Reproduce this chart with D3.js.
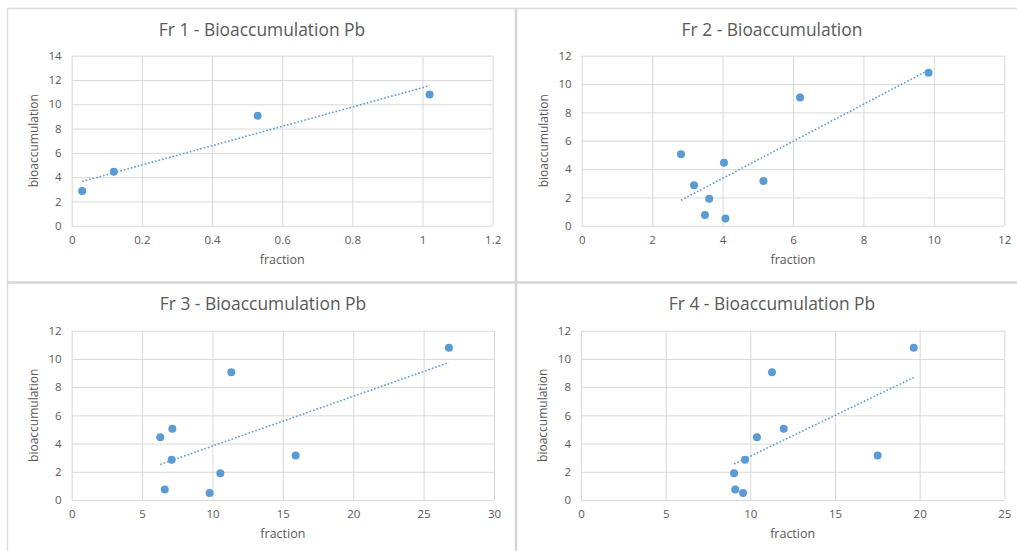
<!DOCTYPE html>
<html><head><meta charset="utf-8">
<script src="https://cdn.jsdelivr.net/npm/d3@7"></script>
<style>
body{margin:0;background:#fff;}
svg{display:block;font-family:"Open Sans",sans-serif;}
</style>
</head><body>
<svg id="c" width="1017" height="551"></svg>
<script>
// ---- data ----
const titles = ["Fr 1 - Bioaccumulation Pb", "Fr 2 - Bioaccumulation", "Fr 3 - Bioaccumulation Pb", "Fr 4 - Bioaccumulation Pb"];
const fr1Fraction = [0.03, 0.12, 0.53, 1.02];
const fr1Bioacc   = [2.85, 4.45, 9.05, 10.8];
const bioacc      = [5.05, 2.85, 1.9, 0.75, 4.45, 0.5, 3.15, 9.05, 10.8];
const fr2Fraction = [2.82, 3.19, 3.62, 3.50, 4.04, 4.08, 5.16, 6.20, 9.85];
const fr3Fraction = [7.15, 7.10, 10.56, 6.61, 6.29, 9.80, 15.91, 11.34, 26.80];
const fr4Fraction = [11.97, 9.69, 9.04, 9.11, 10.39, 9.57, 17.52, 11.28, 19.65];
const xTicks = [[0,0.2,0.4,0.6,0.8,1,1.2],[0,2,4,6,8,10,12],[0,5,10,15,20,25,30],[0,5,10,15,20,25]];
const yTicks = [[0,2,4,6,8,10,12,14],[0,2,4,6,8,10,12],[0,2,4,6,8,10,12],[0,2,4,6,8,10,12]];
const xTitle = "fraction", yTitle = "bioaccumulation";

const seriesX = [fr1Fraction, fr2Fraction, fr3Fraction, fr4Fraction];
const seriesY = [fr1Bioacc, bioacc, bioacc, bioacc];

// ---- layout ----
const panels = [
  {cx:262, l:71.7, r:492.7, t:55.7, b:225.7, ty:30},
  {cx:772, l:581.7, r:1004.3, t:55.7, b:225.7, ty:30},
  {cx:263, l:71.7, r:494, t:330.7, b:500, ty:304},
  {cx:772, l:581, r:1004.3, t:330.7, b:500, ty:304}
];
const blue = "#5b9bd5", grid = "#d9d9d9", txt = "#595959";
const svg = d3.select("#c");

// frames
svg.append("rect").attr("x",0).attr("y",0).attr("width",1017).attr("height",551).attr("fill","#fff");
svg.append("line").attr("x1",7).attr("x2",1017).attr("y1",8.5).attr("y2",8.5).attr("stroke","#dcdcdc").attr("stroke-width",1.5);
svg.append("line").attr("x1",7.5).attr("x2",7.5).attr("y1",8).attr("y2",551).attr("stroke","#dcdcdc").attr("stroke-width",1.5);
svg.append("line").attr("x1",516).attr("x2",516).attr("y1",8).attr("y2",551).attr("stroke","#d6d6d6").attr("stroke-width",2.5);
svg.append("line").attr("x1",7).attr("x2",1017).attr("y1",282.5).attr("y2",282.5).attr("stroke","#d6d6d6").attr("stroke-width",2.5);

panels.forEach((p,i)=>{
  const xt = xTicks[i], yt = yTicks[i];
  const x = d3.scaleLinear().domain([xt[0], xt[xt.length-1]]).range([p.l, p.r]);
  const y = d3.scaleLinear().domain([yt[0], yt[yt.length-1]]).range([p.b, p.t]);
  const g = svg.append("g");

  // gridlines
  g.append("g").attr("transform",`translate(0,${p.b})`)
    .call(d3.axisBottom(x).tickValues(xt).tickSize(-(p.b-p.t)).tickFormat(""))
    .call(s=>{s.select(".domain").remove(); s.selectAll("line").attr("stroke",grid);});
  g.append("g").attr("transform",`translate(${p.l},0)`)
    .call(d3.axisLeft(y).tickValues(yt).tickSize(-(p.r-p.l)).tickFormat(""))
    .call(s=>{s.select(".domain").remove(); s.selectAll("line").attr("stroke",grid);});

  // tick labels
  g.append("g").attr("transform",`translate(0,${p.b})`)
    .call(d3.axisBottom(x).tickValues(xt).tickSize(0).tickPadding(10).tickFormat(d3.format("~g")))
    .call(s=>{s.select(".domain").remove(); s.selectAll("text").attr("fill",txt).attr("font-size",11.5).attr("font-family","'Open Sans',sans-serif");});
  g.append("g").attr("transform",`translate(${p.l},0)`)
    .call(d3.axisLeft(y).tickValues(yt).tickSize(0).tickPadding(10).tickFormat(d3.format("~g")))
    .call(s=>{s.select(".domain").remove(); s.selectAll("text").attr("fill",txt).attr("font-size",11.5).attr("font-family","'Open Sans',sans-serif");});

  // titles
  g.append("text").attr("x",p.cx).attr("y",p.ty).attr("dy","0.35em").attr("text-anchor","middle")
    .attr("fill",txt).attr("font-size",17.4).text(titles[i]);
  g.append("text").attr("x",(p.l+p.r)/2).attr("y",p.b+34).attr("dy","0.35em").attr("text-anchor","middle")
    .attr("fill",txt).attr("font-size",12.5).text(xTitle);
  g.append("text").attr("transform",`translate(${p.l-38},${(p.t+p.b)/2}) rotate(-90)`).attr("dy","0.35em")
    .attr("text-anchor","middle").attr("fill",txt).attr("font-size",12).text(yTitle);

  // trendline (least squares)
  const xs = seriesX[i], ys = seriesY[i];
  const reg = d3.mean(xs), ymean = d3.mean(ys);
  const slope = d3.sum(xs.map((v,k)=>(v-reg)*(ys[k]-ymean))) / d3.sum(xs.map(v=>(v-reg)*(v-reg)));
  const x0 = d3.min(xs), x1 = d3.max(xs);
  g.append("line")
    .attr("x1",x(x0)).attr("y1",y(ymean+slope*(x0-reg)))
    .attr("x2",x(x1)).attr("y2",y(ymean+slope*(x1-reg)))
    .attr("stroke",blue).attr("stroke-width",1.6).attr("stroke-dasharray","1.6,2");

  // points
  g.append("g").selectAll("circle").data(xs.map((v,k)=>[v,ys[k]])).join("circle")
    .attr("cx",d=>x(d[0])).attr("cy",d=>y(d[1])).attr("r",4).attr("fill",blue);
});
</script>
</body></html>
